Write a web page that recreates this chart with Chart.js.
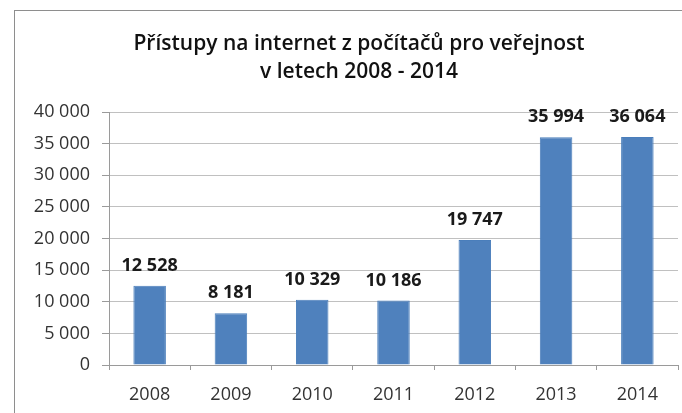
<!DOCTYPE html>
<html lang="cs">
<head>
  <meta charset="UTF-8" />
  <title>Přístupy na internet z počítačů pro veřejnost</title>
  <script src="https://cdn.jsdelivr.net/npm/chart.js"></script>
  <style>
    html, body {
      margin: 0;
      padding: 0;
      background: #fff;
      overflow: hidden;
    }
    .wrap {
      position: relative;
      width: 682px;
      height: 413px;
    }
    .frame {
      position: absolute;
      left: 14px;
      top: 10px;
      width: 720px;
      height: 460px;
      border: 1px solid #8e8e8e;
    }
    canvas {
      position: absolute;
      left: 0;
      top: 0;
    }
  </style>
</head>
<body>
  <div class="wrap">
    <div class="frame"></div>
    <canvas id="chart" width="682" height="413"></canvas>
  </div>

  <script>
    const years = ["2008", "2009", "2010", "2011", "2012", "2013", "2014"];
    const accesses = [12528, 8181, 10329, 10186, 19747, 35994, 36064];
    const titleLines = ["Přístupy na internet z počítačů pro veřejnost", "v letech 2008 - 2014"];

    const fontFamily = "'Open Sans', sans-serif";

    function fmt(v) {
      return String(v).replace(/\B(?=(\d{3})+(?!\d))/g, "\u00a0");
    }

    // title sits a bit right of the canvas centre, so draw it by hand
    const chartTitle = {
      id: "chartTitle",
      afterDraw(chart) {
        const ctx = chart.ctx;
        ctx.save();
        ctx.font = "600 21px " + fontFamily;
        ctx.fillStyle = "#111";
        ctx.textAlign = "center";
        ctx.textBaseline = "alphabetic";
        ctx.fillText(titleLines[0], 359, 50);
        ctx.fillText(titleLines[1], 359, 78);
        ctx.restore();
      }
    };

    // values above bars
    const barLabels = {
      id: "barLabels",
      afterDatasetsDraw(chart) {
        const ctx = chart.ctx;
        const meta = chart.getDatasetMeta(0);
        ctx.save();
        ctx.font = "bold 18px " + fontFamily;
        ctx.fillStyle = "#1a1a1a";
        ctx.textAlign = "center";
        ctx.textBaseline = "middle";
        meta.data.forEach((bar, i) => {
          ctx.fillText(fmt(accesses[i]), bar.x, bar.y - 20);
        });
        ctx.restore();
      }
    };

    const ctx = document.getElementById("chart").getContext("2d");
    new Chart(ctx, {
      type: "bar",
      data: {
        labels: years,
        datasets: [{
          data: accesses,
          backgroundColor: "#4f81bd",
          borderColor: "#4a7ebb",
          borderWidth: 1,
          categoryPercentage: 1,
          barPercentage: 0.4
        }]
      },
      options: {
        responsive: false,
        animation: false,
        layout: { padding: { top: 112, right: 4, bottom: 8, left: 0 } },
        plugins: {
          legend: { display: false },
          tooltip: { enabled: false },
          title: { display: false }
        },
        scales: {
          x: {
            grid: {
              offset: true,
              drawOnChartArea: false,
              drawTicks: true,
              tickLength: 5,
              color: "#9a9a9a"
            },
            border: { color: "#9a9a9a" },
            ticks: {
              color: "#333",
              padding: 14,
              font: { family: fontFamily, size: 18 }
            },
            afterFit(scale) { scale.height = 40; }
          },
          y: {
            min: 0,
            max: 40000,
            ticks: {
              stepSize: 5000,
              color: "#333",
              padding: 12,
              font: { family: fontFamily, size: 18 },
              callback: (v) => fmt(v)
            },
            grid: {
              color: "#c0c0c0",
              tickLength: 7,
              tickColor: "#9a9a9a"
            },
            border: { color: "#9a9a9a" },
            afterFit(scale) { scale.width = 109; }
          }
        }
      },
      plugins: [barLabels, chartTitle]
    });
  </script>
</body>
</html>
